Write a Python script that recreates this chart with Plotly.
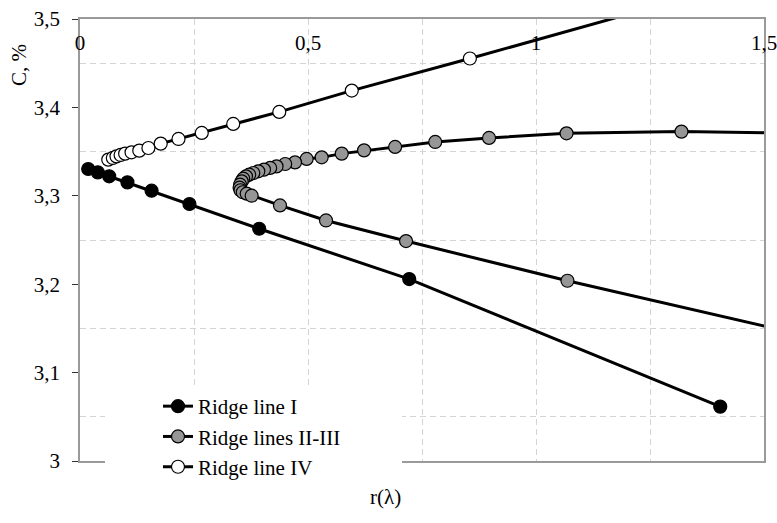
import plotly.graph_objects as go

# Ridge line I (black markers)
ridge_I_r = [0.018, 0.039, 0.064, 0.104, 0.157, 0.240, 0.393, 0.722, 1.404]
ridge_I_c = [3.3303, 3.3265, 3.3220, 3.3152, 3.3058, 3.2907, 3.2627, 3.2058, 3.0615]

# Ridge lines II-III (grey markers): upper branch, nose, lower branch
ridge_II_III_r = [1.65, 1.319, 1.067, 0.897, 0.779, 0.691, 0.623, 0.574, 0.530, 0.497,
                  0.4715, 0.450, 0.431, 0.417, 0.4035, 0.391, 0.380, 0.371, 0.364, 0.358,
                  0.3546, 0.351, 0.350, 0.352, 0.357, 0.3656, 0.3765, 0.4386, 0.5395, 0.715,
                  1.069, 1.65]
ridge_II_III_c = [3.3705, 3.3726, 3.3707, 3.3655, 3.3609, 3.3553, 3.3514, 3.3477, 3.3435, 3.3417,
                  3.3378, 3.3360, 3.3333, 3.3315, 3.3296, 3.3277, 3.3258, 3.3239, 3.3220, 3.3194,
                  3.3163, 3.3126, 3.3092, 3.3063, 3.3040, 3.3024, 3.3001, 3.2891, 3.2721, 3.2488,
                  3.2039, 3.1350]

# Ridge line IV (white markers)
ridge_IV_r = [0.062, 0.072, 0.080, 0.089, 0.099, 0.113, 0.130, 0.150, 0.177, 0.216,
              0.267, 0.336, 0.437, 0.596, 0.855, 1.300]
ridge_IV_c = [3.3409, 3.3428, 3.3446, 3.3462, 3.3477, 3.3492, 3.3511, 3.3541, 3.3590, 3.3643,
              3.3711, 3.3813, 3.3949, 3.4190, 3.4553, 3.5195]

x_tickvals = [0, 0.5, 1, 1.5]
x_ticktext = ["0", "0,5", "1", "1,5"]
y_tickvals = [3.0, 3.1, 3.2, 3.3, 3.4, 3.5]
y_ticktext = ["3", "3,1", "3,2", "3,3", "3,4", "3,5"]

FONT = "Liberation Serif"
W, H = 777, 523
ML, MR, MT, MB = 80, 13, 19, 62
PW, PH = W - ML - MR, H - MT - MB


def px_to_paper_x(px):
    return (px - ML) / PW


def px_to_paper_y(py):
    return (H - MB - py) / PH


fig = go.Figure()

series = [
    ("Ridge line I", ridge_I_r, ridge_I_c, "#000000"),
    ("Ridge lines II-III", ridge_II_III_r, ridge_II_III_c, "#969696"),
    ("Ridge line IV", ridge_IV_r, ridge_IV_c, "#ffffff"),
]
for i, (name, xs, ys, fill) in enumerate(series):
    fig.add_trace(go.Scatter(
        x=xs, y=ys, name=name, mode="lines+markers", legendgroup=f"g{i}",
        line=dict(color="#000000", width=3),
        marker=dict(size=13, color=fill, line=dict(color="#000000", width=1.2)),
    ))

grid_color = "#d4d4d4"

fig.update_xaxes(
    range=[0, 1.5], side="top", tickvals=x_tickvals, ticktext=x_ticktext,
    ticks="", ticklabelposition="inside", ticklabelstandoff=18,
    ticklabeloverflow="allow", automargin=False,
    tickfont=dict(family=FONT, size=21, color="#000"),
    showgrid=True, gridcolor=grid_color, griddash="6px,4px", gridwidth=1,
    minor=dict(dtick=0.25, tick0=0, showgrid=True, gridcolor=grid_color,
               griddash="6px,4px", gridwidth=1),
    showline=True, mirror=True, linecolor="#9a9a9a", linewidth=1.5,
    zeroline=False,
)
fig.update_yaxes(
    range=[3.0, 3.5], tickvals=y_tickvals, ticktext=y_ticktext,
    ticks="outside", ticklen=6, tickcolor="#333", ticklabelstandoff=8,
    automargin=False,
    tickfont=dict(family=FONT, size=21, color="#000"),
    showgrid=False,
    minor=dict(tick0=3.05, dtick=0.1, showgrid=True, gridcolor=grid_color,
               griddash="6px,4px", gridwidth=1),
    showline=True, mirror=True, linecolor="#9a9a9a", linewidth=1.5,
    zeroline=False,
)

# White panel behind the legend
fig.add_shape(
    type="rect", xref="paper", yref="paper", layer="above",
    x0=px_to_paper_x(105), x1=px_to_paper_x(402),
    y0=px_to_paper_y(486), y1=px_to_paper_y(388),
    fillcolor="#ffffff", line=dict(width=0),
)

fig.add_annotation(
    text="C, %", textangle=-90, xref="paper", yref="paper",
    x=px_to_paper_x(19), y=px_to_paper_y(65), xanchor="center", yanchor="middle",
    showarrow=False, font=dict(family=FONT, size=21, color="#000"),
)
fig.add_annotation(
    text="r(λ)", xref="paper", yref="paper",
    x=px_to_paper_x(385), y=px_to_paper_y(497), xanchor="center", yanchor="middle",
    showarrow=False, font=dict(family=FONT, size=21, color="#000"),
)

fig.update_layout(
    width=W, height=H,
    margin=dict(l=ML, r=MR, t=MT, b=MB, autoexpand=False),
    paper_bgcolor="#ffffff", plot_bgcolor="#ffffff",
    showlegend=True,
    legend=dict(
        x=px_to_paper_x(158), y=px_to_paper_y(386), xanchor="left", yanchor="top",
        bgcolor="rgba(255,255,255,0)", borderwidth=0,
        font=dict(family=FONT, size=21, color="#000"),
        tracegroupgap=0, itemwidth=30,
    ),
)

fig.write_html("out.html")
